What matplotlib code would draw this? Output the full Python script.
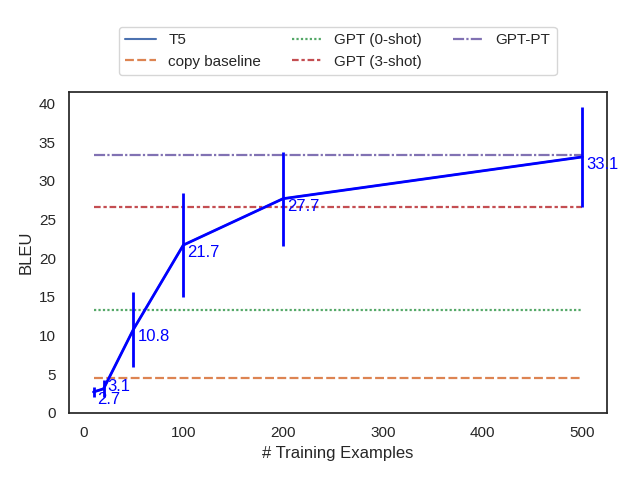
import numpy as np
import matplotlib
matplotlib.use("Agg")
import matplotlib.pyplot as plt
import seaborn as sns

# T5 results (mean BLEU, std) per number of training examples
n_train = [10, 20, 50, 100, 200, 500]
t5_bleu = [2.7, 3.1, 10.8, 21.7, 27.7, 33.1]
t5_std = [0.7, 1.1, 4.85, 6.7, 6.1, 6.5]

# flat baselines
baseline_names = ["copy baseline", "GPT (0-shot)", "GPT (3-shot)", "GPT-PT"]
baseline_bleu = [4.5, 13.3, 26.6, 33.4]


def main():
    sns.set_theme(style="white", context="notebook")
    plt.rcParams["font.family"] = "sans-serif"
    plt.rcParams["font.sans-serif"] = ["Arial", "Liberation Sans", "DejaVu Sans"]

    pal = sns.color_palette("deep")
    dashes = [(4, 1.5), (1, 1), (3, 1.25, 1.5, 1.25), (5, 1, 1, 1)]

    fig, ax = plt.subplots(figsize=(6.4, 4.8), dpi=100)
    fig.subplots_adjust(left=0.108, right=0.948, bottom=0.14, top=0.808)

    ax.plot(n_train, t5_bleu, color=pal[0], lw=1.5, label="T5")
    xs = [n_train[0], n_train[-1]]
    for i in range(len(baseline_names)):
        ax.plot(xs, [baseline_bleu[i]] * 2, color=pal[i + 1], lw=1.6,
                dashes=dashes[i], label=baseline_names[i])

    ax.errorbar(n_train, t5_bleu, yerr=t5_std, color="blue", lw=2,
                elinewidth=2, capsize=0, zorder=5)

    for x, y in zip(n_train, t5_bleu):
        ty = y
        if x == 20:
            ty = y + 1.25  # nudge so it doesn't sit on the 2.7 label
        ax.text(x + 4, ty, str(y), color="blue", fontsize=12, va="top", ha="left")

    ax.set_ylim(bottom=0)
    ax.set_xlabel("# Training Examples")
    ax.set_ylabel("BLEU")
    for s in ax.spines.values():
        s.set_color("0.15")

    ax.legend(loc="lower center", bbox_to_anchor=(0.5, 1.03), ncol=3)

    fig.savefig("out.png")


if __name__ == "__main__": main()
